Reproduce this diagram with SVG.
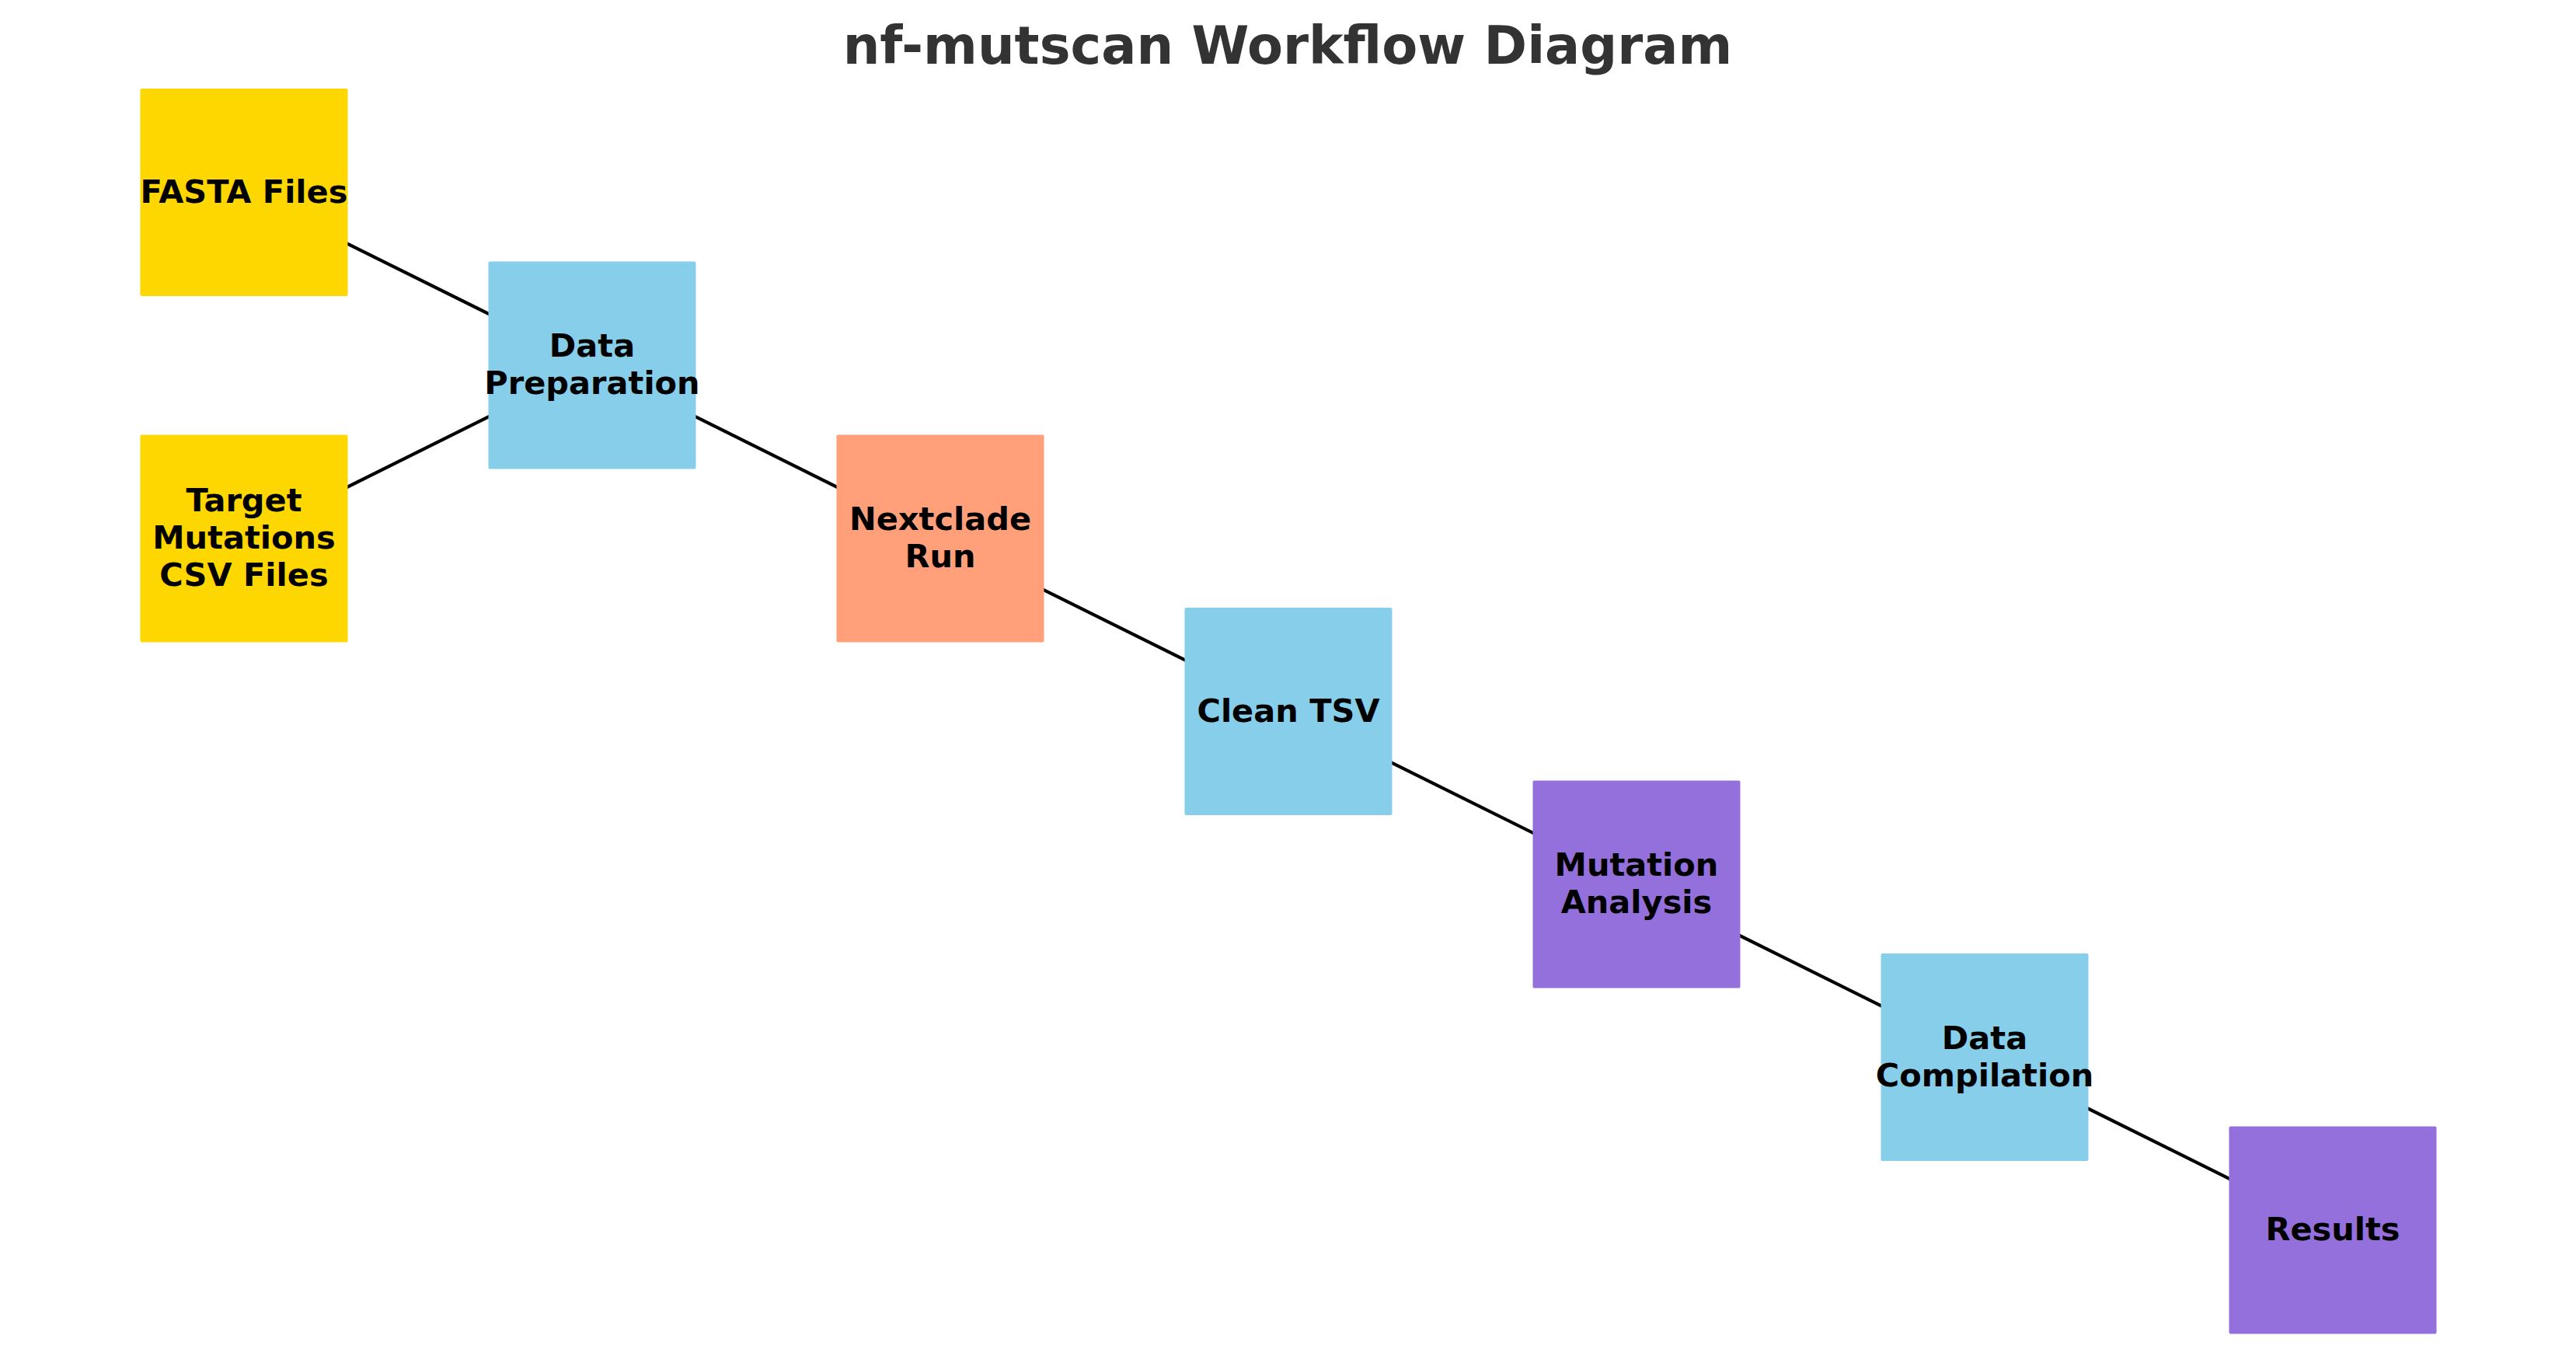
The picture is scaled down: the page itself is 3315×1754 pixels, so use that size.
<svg xmlns="http://www.w3.org/2000/svg" width="3315" height="1754" viewBox="0 0 3315 1754">
<style>
.t{font-family:"DejaVu Sans","Liberation Sans",sans-serif;font-weight:bold;font-size:41.5px;fill:#000;text-anchor:middle}
.title{font-family:"DejaVu Sans","Liberation Sans",sans-serif;font-weight:bold;font-size:67px;fill:#333333;text-anchor:middle}
.e{stroke:#000;stroke-width:4.2;fill:none}
.y{fill:#FFD700}.b{fill:#87CEEB}.s{fill:#FFA07A}.p{fill:#9370DB}
</style>
<rect width="3315" height="1754" fill="#fff"/>
<text class="title" x="1657" y="82">nf-mutscan Workflow Diagram</text>
<g id="connectors">
<line class="e" x1="314" y1="247.5" x2="762" y2="470"/>
<line class="e" x1="314" y1="693" x2="762" y2="470"/>
<line class="e" x1="762" y1="470" x2="1210" y2="693"/>
<line class="e" x1="1210" y1="693" x2="1658" y2="915.5"/>
<line class="e" x1="1658" y1="915.5" x2="2106" y2="1138"/>
<line class="e" x1="2106" y1="1138" x2="2554" y2="1360.5"/>
<line class="e" x1="2554" y1="1360.5" x2="3002" y2="1583"/>
</g>
<g id="fasta"><rect class="y" x="180.5" y="114" width="267" height="267" rx="2"/><text class="t" x="314" y="260.5">FASTA Files</text></g>
<g id="target"><rect class="y" x="180.5" y="559.5" width="267" height="267" rx="2"/><text class="t" x="314" y="658">Target</text><text class="t" x="314" y="706">Mutations</text><text class="t" x="314" y="754">CSV Files</text></g>
<g id="dataprep"><rect class="b" x="628.5" y="336.5" width="267" height="267" rx="2"/><text class="t" x="762" y="459">Data</text><text class="t" x="762" y="507">Preparation</text></g>
<g id="nextclade"><rect class="s" x="1076.5" y="559.5" width="267" height="267" rx="2"/><text class="t" x="1210" y="682">Nextclade</text><text class="t" x="1210" y="730">Run</text></g>
<g id="clean"><rect class="b" x="1524.5" y="782" width="267" height="267" rx="2"/><text class="t" x="1658" y="928.5">Clean TSV</text></g>
<g id="mutation"><rect class="p" x="1972.5" y="1004.5" width="267" height="267" rx="2"/><text class="t" x="2106" y="1127">Mutation</text><text class="t" x="2106" y="1175">Analysis</text></g>
<g id="compilation"><rect class="b" x="2420.5" y="1227" width="267" height="267" rx="2"/><text class="t" x="2554" y="1349.5">Data</text><text class="t" x="2554" y="1397.5">Compilation</text></g>
<g id="results"><rect class="p" x="2868.5" y="1449.5" width="267" height="267" rx="2"/><text class="t" x="3002" y="1596">Results</text></g>
</svg>
